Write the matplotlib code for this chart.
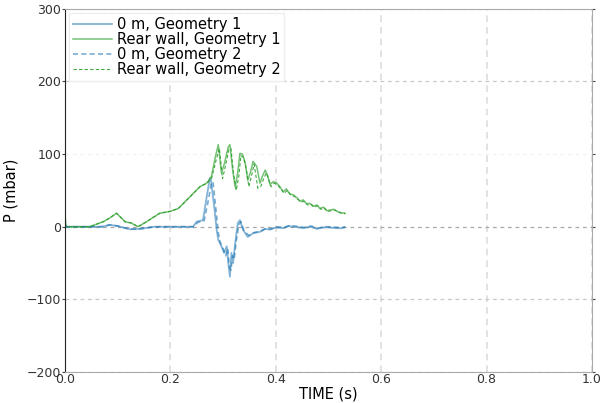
import matplotlib
matplotlib.use("Agg")
import matplotlib.pyplot as plt

# Rear wall, Geometry 1
t_rw1 = [0.0, 0.002, 0.047, 0.073, 0.085, 0.098, 0.114, 0.126, 0.139, 0.155, 0.180, 0.199, 0.215,
         0.237, 0.256, 0.269, 0.278, 0.285, 0.291, 0.297, 0.303, 0.310, 0.313, 0.318, 0.323, 0.328,
         0.332, 0.337, 0.342, 0.347, 0.352, 0.357, 0.364, 0.370, 0.375, 0.380, 0.385, 0.389, 0.395,
         0.402, 0.408, 0.414, 0.420, 0.427, 0.433, 0.440, 0.446, 0.452, 0.458, 0.465, 0.471, 0.478,
         0.484, 0.490, 0.497, 0.503, 0.510, 0.517, 0.525, 0.530]
p_rw1 = [19, 0, 0, 7, 12, 18.6, 7, 5, 0, 7, 18.6, 21, 25,
         41, 55, 60, 69, 95, 113, 74, 88, 110, 113, 80, 55, 75,
         101, 100, 88, 64, 75, 90, 83, 60, 70, 78, 70, 58, 62,
         60, 55, 48, 52, 45, 44, 40, 35, 37, 32, 32, 28, 30,
         25, 27, 22, 23, 24, 21, 19, 19]

# Rear wall, Geometry 2
t_rw2 = [0.0, 0.002, 0.047, 0.073, 0.085, 0.098, 0.114, 0.126, 0.139, 0.155, 0.180, 0.199, 0.215,
         0.237, 0.256, 0.269, 0.278, 0.287, 0.293, 0.299, 0.305, 0.311, 0.315, 0.320, 0.325, 0.330,
         0.334, 0.339, 0.344, 0.349, 0.354, 0.359, 0.366, 0.372, 0.377, 0.382, 0.387, 0.391, 0.397,
         0.404, 0.410, 0.416, 0.422, 0.429, 0.435, 0.442, 0.448, 0.454, 0.460, 0.467, 0.473, 0.480,
         0.486, 0.492, 0.499, 0.505, 0.512, 0.519, 0.527, 0.533]
p_rw2 = [19, 0, 0, 7, 12, 18.6, 7, 5, 0, 7, 18.6, 21, 25,
         41, 55, 60, 66, 92, 108, 66, 85, 106, 108, 72, 50, 70,
         98, 95, 80, 55, 70, 86, 53, 56, 66, 74, 64, 55, 60,
         57, 52, 46, 50, 43, 42, 38, 34, 35, 30, 31, 27, 29,
         24, 26, 21, 22, 23, 20, 18, 18]

# 0 m, Geometry 1
t_0m1 = [0.0, 0.070, 0.085, 0.100, 0.123, 0.142, 0.170, 0.200, 0.243, 0.250, 0.262, 0.269, 0.275,
         0.277, 0.284, 0.288, 0.291, 0.297, 0.302, 0.307, 0.310, 0.313, 0.316, 0.319, 0.323, 0.328,
         0.332, 0.338, 0.347, 0.357, 0.370, 0.380, 0.389, 0.400, 0.414, 0.425, 0.433, 0.445, 0.452,
         0.465, 0.478, 0.490, 0.503, 0.515, 0.525, 0.530]
p_0m1 = [0, 0, 2.5, 1, -3.5, -3, 0, 0, 0, 7, 9, 41, 67,
         65, 23, -4.5, -18, -27, -36, -27, -50, -69, -36, -50, -23, 5,
         9, -4.5, -14, -9, -7, -3, -4, -1, -2, 1, 0, -1, -2,
         0, -3, -1, -1, -2, -2, -1]

# 0 m, Geometry 2
t_0m2 = [0.0, 0.070, 0.085, 0.100, 0.123, 0.142, 0.170, 0.200, 0.245, 0.252, 0.264, 0.272, 0.278,
         0.281, 0.287, 0.291, 0.294, 0.300, 0.305, 0.309, 0.312, 0.315, 0.318, 0.321, 0.325, 0.330,
         0.334, 0.340, 0.349, 0.359, 0.372, 0.382, 0.391, 0.402, 0.416, 0.427, 0.435, 0.447, 0.454,
         0.467, 0.480, 0.492, 0.505, 0.517, 0.527, 0.532]
p_0m2 = [0, 0, 2.5, 1, -3.5, -3, 0, 0, 0, 6, 8, 36, 60,
         62, 20, -8, -20, -30, -40, -30, -55, -60, -40, -45, -20, 3,
         7, -6, -12, -8, -6, -2, -3, 0, -1, 2, 1, 0, -1,
         1, -2, 0, 0, -1, -1, 0]

x_ticks = [0.0, 0.2, 0.4, 0.6, 0.8, 1.0]
y_ticks = [-200, -100, 0, 100, 200, 300]

fig = plt.figure(figsize=(6.01, 4.03), dpi=100)
ax = fig.add_axes([0.108, 0.077, 0.877, 0.901])

ax.plot(t_0m1, p_0m1, color='#1f77b4', alpha=0.55, lw=1.3, label='0 m, Geometry 1')
ax.plot(t_rw1, p_rw1, color='#2ca02c', alpha=0.65, lw=1.1, label='Rear wall, Geometry 1')
ax.plot(t_0m2, p_0m2, color='#1f77b4', alpha=0.6, lw=1.2, ls='--', dashes=(3, 2), label='0 m, Geometry 2')
ax.plot(t_rw2, p_rw2, color='#2ca02c', alpha=0.9, lw=0.8, ls='--', dashes=(3, 2), label='Rear wall, Geometry 2')

ax.set_xlim(0, 1.0)
ax.set_ylim(-200, 300)
ax.set_xticks(x_ticks)
ax.set_yticks(y_ticks)
ax.grid(True, axis='x', color='#dddddd', ls='--', lw=1.2, dashes=(4, 3), zorder=0)
ax.grid(True, axis='y', color='#c8c8c8', ls='--', lw=0.9, dashes=(3, 3), zorder=0)
for gl, v in zip(ax.get_ygridlines(), y_ticks):
    if v == 0:
        gl.set_color('#a8a8a8')
    elif v == 100:
        gl.set_color('#f2f2f2')

for s in ['top', 'right', 'bottom']:
    ax.spines[s].set_color('#aaaaaa')
ax.spines['left'].set_color('#222222')
ax.tick_params(axis='x', labelsize=9, length=0, pad=1, colors='#333333')
ax.tick_params(axis='y', labelsize=9, length=2.5, pad=0, color='#444444', labelcolor='#333333')
ax.tick_params(axis='y', right=True, labelright=False)

ax.set_xlabel('TIME (s)', fontsize=10.5, labelpad=0)
ax.set_ylabel('P (mbar)', fontsize=10.5, labelpad=6)

leg = ax.legend(loc='upper left', fontsize=10.5, labelspacing=0.0, handlelength=2.7,
                handletextpad=0.3, borderpad=0.25, borderaxespad=0.3, fancybox=False,
                framealpha=1.0, edgecolor='#eeeeee')

fig.savefig('out.png', dpi=100)
